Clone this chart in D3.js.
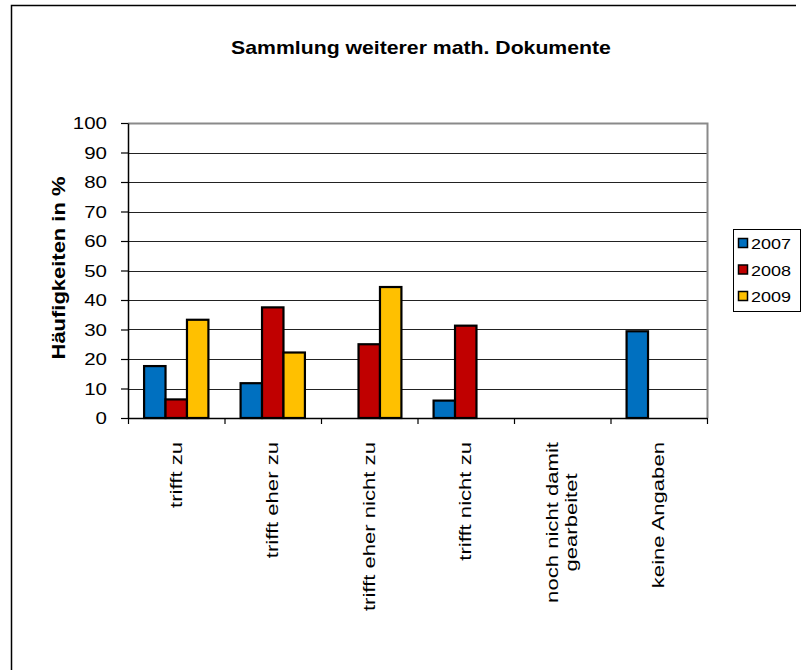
<!DOCTYPE html>
<html>
<head>
<meta charset="utf-8">
<script src="https://cdn.jsdelivr.net/npm/d3@7"></script>
<style>
  body { margin: 0; background: #fff; }
  svg { display: block; font-family: Arial, "Liberation Sans", sans-serif; }
</style>
</head>
<body>
<svg id="chart" width="805" height="670"></svg>
<script>
// Antworten (Kategorien) und Jahrgänge
const categories = [
  ["trifft zu"],
  ["trifft eher zu"],
  ["trifft eher nicht zu"],
  ["trifft nicht zu"],
  ["noch nicht damit", "gearbeitet"],
  ["keine Angaben"]
];
const years = ["2007", "2008", "2009"];

// Häufigkeiten in % je Jahrgang, in Kategorienreihenfolge
const values2007 = [17.6, 11.8, 0, 5.9, 0, 29.4];
const values2008 = [6.3, 37.5, 25.0, 31.3, 0, 0];
const values2009 = [33.3, 22.2, 44.4, 0, 0, 0];

const yTicks = [0, 10, 20, 30, 40, 50, 60, 70, 80, 90, 100];
const colors = ["#0070C0", "#C00000", "#FFC000"];

const series = [values2007, values2008, values2009];

// Schrift ist breit gesetzt: horizontale Streckung der Glyphen
const stretch = 1.28;

const svg = d3.select("#chart");
const plot = { left: 128, right: 707, top: 123, bottom: 418 };

// Rahmen des Diagrammbereichs
svg.append("path")
  .attr("d", "M11.5,670 V5.5 H796")
  .attr("fill", "none").attr("stroke", "#000").attr("stroke-width", 1.5);

// Titel
svg.append("text")
  .attr("transform", "translate(421,54) scale(1.18,1)")
  .attr("text-anchor", "middle")
  .attr("font-size", 18).attr("font-weight", "bold")
  .text("Sammlung weiterer math. Dokumente");

const x = d3.scaleBand()
  .domain(d3.range(categories.length))
  .range([plot.left, plot.right]);
const y = d3.scaleLinear().domain([0, 100]).range([plot.bottom, plot.top]);
const inner = d3.scaleBand().domain(d3.range(years.length))
  .range([0, x.bandwidth()]).paddingOuter(0.75).paddingInner(0);

// Gitternetzlinien
svg.append("g").selectAll("line").data(yTicks.slice(1, -1)).join("line")
  .attr("x1", plot.left).attr("x2", plot.right)
  .attr("y1", d => Math.round(y(d)) + 0.5).attr("y2", d => Math.round(y(d)) + 0.5)
  .attr("stroke", "#222").attr("stroke-width", 1.2);

// Zeichnungsfläche: oberer und rechter Rand grau
svg.append("path")
  .attr("d", `M${plot.left},${plot.top + 0.5} H${plot.right + 0.5} V${plot.bottom}`)
  .attr("fill", "none").attr("stroke", "#8a8a8a").attr("stroke-width", 2);

// Balken
const groups = svg.append("g").selectAll("g").data(series).join("g")
  .attr("fill", (d, i) => colors[i]);
groups.each(function (vals, si) {
  d3.select(this).selectAll("rect").data(vals.map((v, ci) => ({ v, ci })).filter(d => d.v > 0))
    .join("rect")
    .attr("x", d => x(d.ci) + inner(si))
    .attr("y", d => y(d.v))
    .attr("width", inner.bandwidth())
    .attr("height", d => y(0) - y(d.v))
    .attr("stroke", "#000").attr("stroke-width", 2.2);
});

// Y-Achse
const yAxis = svg.append("g")
  .attr("transform", `translate(${plot.left},0)`)
  .call(d3.axisLeft(y).tickValues(yTicks).tickSize(7).tickSizeOuter(0));
yAxis.select(".domain").attr("stroke", "#000").attr("stroke-width", 1.5);
yAxis.selectAll(".tick line").attr("stroke", "#000").attr("stroke-width", 1.2);
yAxis.selectAll("text")
  .attr("x", 0).attr("dy", "0.36em")
  .attr("transform", `translate(-21,0) scale(${stretch},1)`)
  .attr("font-size", 16).attr("fill", "#000")
  .attr("font-family", "Arial, 'Liberation Sans', sans-serif");

// X-Achse
const xAxis = svg.append("g")
  .attr("transform", `translate(0,${plot.bottom})`)
  .call(d3.axisBottom(d3.scaleLinear().domain([0, categories.length]).range([plot.left, plot.right]))
    .tickValues(d3.range(categories.length + 1)).tickSize(6).tickFormat("").tickSizeOuter(0));
xAxis.select(".domain").attr("stroke", "#000").attr("stroke-width", 1.5);
xAxis.selectAll(".tick line").attr("stroke", "#000").attr("stroke-width", 1.2);

// Kategorienbeschriftungen (gedreht, mehrzeilig zentriert)
const catStretch = 1.3;
const catLabels = svg.append("g").selectAll("text").data(categories).join("text")
  .attr("font-size", 17).attr("fill", "#000");
catLabels.each(function (lines, i) {
  const t = d3.select(this);
  const cx = x(i) + x.bandwidth() / 2;
  const lh = 19;
  // Längste Zeile bestimmt die Blockhöhe
  t.text(lines.reduce((a, b) => a.length >= b.length ? a : b));
  const w = this.getComputedTextLength() * catStretch;
  t.text(null);
  const top = 442;
  lines.forEach((l, k) => {
    const off = (k - (lines.length - 1) / 2) * lh;
    t.append("tspan")
      .attr("x", 0).attr("y", off + 5.5)
      .text(l);
  });
  t.attr("text-anchor", "middle")
    .attr("transform", `translate(${cx},${top + w / 2}) rotate(-90) scale(${catStretch},1)`);
});

// Achsentitel
svg.append("text")
  .attr("transform", "translate(65,268) rotate(-90) scale(1.22,1)")
  .attr("text-anchor", "middle")
  .attr("font-size", 18).attr("font-weight", "bold")
  .text("Häufigkeiten in %");

// Legende
const legend = svg.append("g").attr("transform", "translate(733,229)");
legend.append("rect").attr("x", 0.5).attr("y", 0.5).attr("width", 67).attr("height", 82)
  .attr("fill", "#fff").attr("stroke", "#000").attr("stroke-width", 1);
const item = legend.selectAll("g.item").data(years).join("g")
  .attr("class", "item")
  .attr("transform", (d, i) => `translate(0,${14 + i * 26.5})`);
item.append("rect").attr("x", 5.5).attr("y", -4.5).attr("width", 9).attr("height", 9)
  .attr("fill", (d, i) => colors[i]).attr("stroke", "#000").attr("stroke-width", 1.5);
item.append("text")
  .attr("transform", "translate(18,6) scale(1.2,1)")
  .attr("font-size", 15).text(d => d);
</script>
</body>
</html>
